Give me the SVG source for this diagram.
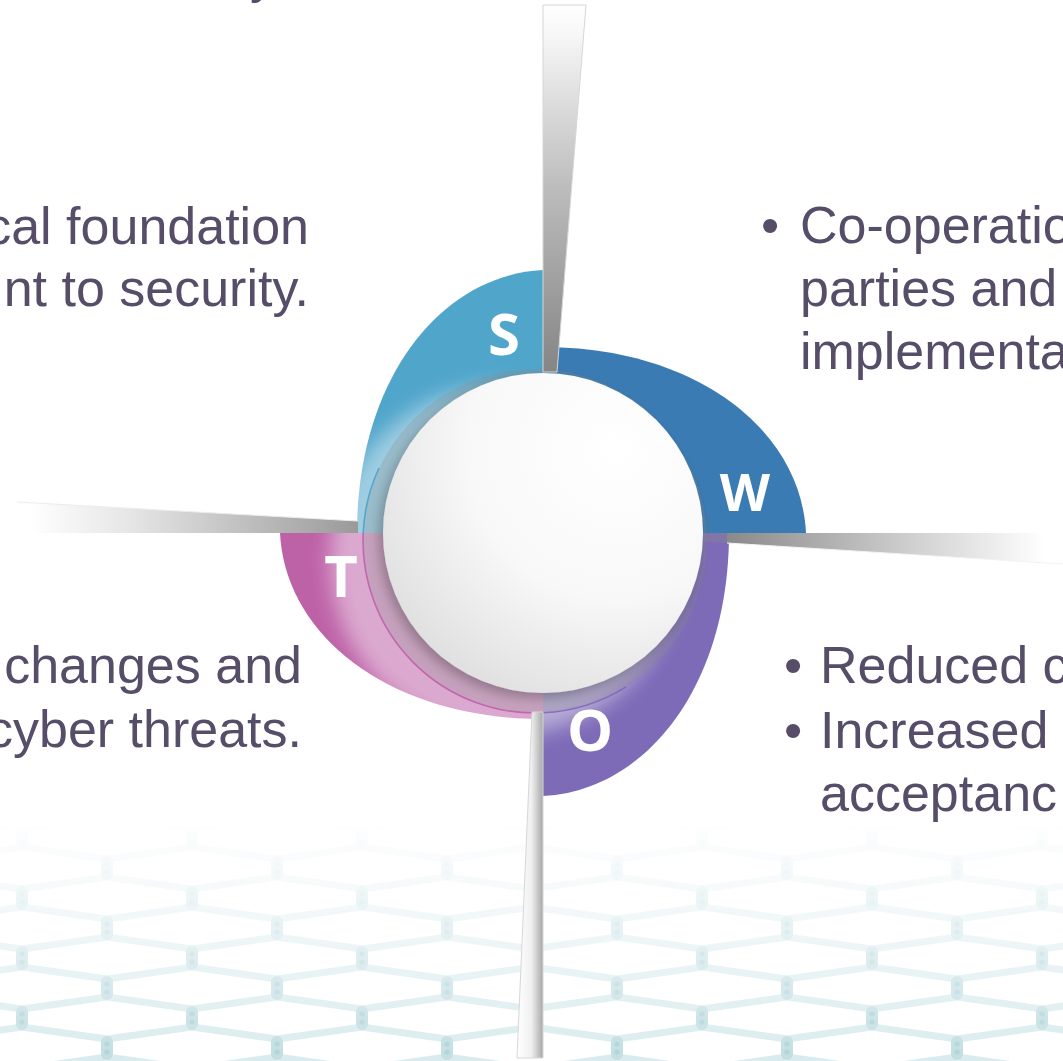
<svg xmlns="http://www.w3.org/2000/svg" width="1063" height="1061" viewBox="0 0 1063 1061">
<defs>
<style>
.txt{font-family:"Liberation Sans",Arial,sans-serif;font-size:52px;fill:#564D69}
.ltr{font-family:"Open Sans","DejaVu Sans",sans-serif;font-weight:700;fill:#ffffff;text-anchor:middle}
.hexline{fill:none;stroke:#d9ebee;stroke-width:7;stroke-linejoin:round}
.hexbond{fill:none;stroke:#c2dee2;stroke-width:12;stroke-linecap:round}
.needle{stroke:#d6d6d6;stroke-width:1}
.ring{fill:none;stroke-width:1.6;stroke-opacity:0.85}
</style>
<pattern id="hex" patternUnits="userSpaceOnUse" width="170" height="60" patternTransform="translate(-20,1003)">
<path class="hexline" d="M-43,36 L42,24 L127,36 L212,24 M-43,-6 L42,6 L127,-6 L212,6 M-43,54 L42,66 L127,54 L212,66"/>
<path class="hexbond" d="M42,9 V21 M127,39 V51"/>
<g fill="#afd3d8"><circle cx="42" cy="11" r="2.6"/><circle cx="42" cy="19" r="2.6"/><circle cx="127" cy="41" r="2.6"/><circle cx="127" cy="49" r="2.6"/></g>
</pattern>
<linearGradient id="fadeG" gradientUnits="userSpaceOnUse" x1="0" y1="820" x2="0" y2="1061">
<stop offset="0" stop-color="#fff" stop-opacity="0"/>
<stop offset="0.45" stop-color="#fff" stop-opacity="0.4"/>
<stop offset="1" stop-color="#fff" stop-opacity="1"/>
</linearGradient>
<mask id="fadeM" maskUnits="userSpaceOnUse" x="0" y="0" width="1063" height="1061">
<rect x="0" y="800" width="1063" height="261" fill="url(#fadeG)"/>
</mask>
<linearGradient id="gTop" gradientUnits="userSpaceOnUse" x1="0" y1="5" x2="0" y2="372">
<stop offset="0" stop-color="#ffffff"/>
<stop offset="0.08" stop-color="#f7f7f7"/>
<stop offset="0.5" stop-color="#bcbcbc"/>
<stop offset="1" stop-color="#858585"/>
</linearGradient>
<linearGradient id="gLeft" gradientUnits="userSpaceOnUse" x1="30" y1="0" x2="358" y2="0">
<stop offset="0" stop-color="#ffffff"/>
<stop offset="0.3" stop-color="#e6e6e6"/>
<stop offset="1" stop-color="#9a9a9a"/>
</linearGradient>
<linearGradient id="gRight" gradientUnits="userSpaceOnUse" x1="727" y1="0" x2="1045" y2="0">
<stop offset="0" stop-color="#8a8a8a"/>
<stop offset="0.6" stop-color="#d2d2d2"/>
<stop offset="1" stop-color="#ffffff"/>
</linearGradient>
<linearGradient id="gBottom" gradientUnits="userSpaceOnUse" x1="517" y1="0" x2="543" y2="0">
<stop offset="0" stop-color="#ffffff"/>
<stop offset="0.55" stop-color="#f0f0f0"/>
<stop offset="1" stop-color="#a8a8a8"/>
</linearGradient>
<radialGradient id="gCircle" gradientUnits="userSpaceOnUse" cx="615" cy="450" r="270">
<stop offset="0" stop-color="#ffffff"/>
<stop offset="0.55" stop-color="#f8f8f8"/>
<stop offset="1" stop-color="#e0e0e0"/>
</radialGradient>
<filter id="sh" x="-30%" y="-30%" width="160%" height="160%">
<feDropShadow dx="-4" dy="5" stdDeviation="6" flood-color="#000" flood-opacity="0.26"/>
</filter>
<filter id="blur" x="-30%" y="-30%" width="160%" height="160%">
<feGaussianBlur stdDeviation="10"/>
</filter>
</defs>
<rect width="1063" height="1061" fill="#ffffff"/>
<g id="background-pattern" mask="url(#fadeM)">
<rect x="0" y="800" width="1063" height="261" fill="url(#hex)"/>
</g>
<g id="text-strengths">
<text class="txt" x="250" y="-8">y</text>
<text class="txt" text-anchor="end" x="309" y="244">cal foundation</text>
<text class="txt" text-anchor="end" x="309" y="306">nt to security.</text>
</g>
<g id="text-weaknesses">
<text class="txt" x="761" y="243">•</text>
<text class="txt" x="800" y="243">Co-operatio</text>
<text class="txt" x="800" y="306">parties and</text>
<text class="txt" x="800" y="369">implementa</text>
</g>
<g id="text-opportunities">
<text class="txt" x="784" y="683">•</text>
<text class="txt" x="820" y="683">Reduced c</text>
<text class="txt" x="784" y="748">•</text>
<text class="txt" x="820" y="748">Increased</text>
<text class="txt" x="820" y="811">acceptanc</text>
</g>
<g id="text-threats">
<text class="txt" text-anchor="end" x="302" y="683">changes and</text>
<text class="txt" text-anchor="end" x="302" y="747">cyber threats.</text>
</g>
<g id="node-S"><path d="M543,270 C440,275 357,380 357,533 L543,533 Z" fill="#50A5CB"/></g>
<g id="node-W"><path d="M806,533 C801,430 696,347 543,347 L543,533 Z" fill="#3B7BB3"/></g>
<g id="node-O"><path d="M543,796 C646,791 729,686 729,533 L543,533 Z" fill="#7E6BB8"/></g>
<g id="node-T"><path d="M280,533 C285,636 390,719 543,719 L543,533 Z" fill="#BE62A8"/></g>
<g id="hub-shading">
<circle cx="505" cy="560" r="175" fill="#ffffff" opacity="0.45" filter="url(#blur)"/>
<circle cx="535" cy="541" r="172" fill="#8c8c8c" opacity="0.26"/>
<path class="ring" stroke="#4a9fc9" d="M379,468 A172,172 0 0 0 363.2,533"/>
<path class="ring" stroke="#c05aaa" d="M363.2,533 A172,172 0 0 0 543,712.8"/>
<path class="ring" stroke="#8064b8" d="M543,712.8 A172,172 0 0 0 626.2,686.9"/>
</g>
<g id="hub"><circle cx="543" cy="533" r="160" fill="url(#gCircle)" filter="url(#sh)"/></g>
<g id="connectors">
<polygon class="needle" points="543,5 586,5 557,372 543,372" fill="url(#gTop)"/>
<polygon points="17,502 358,521 358,533 17,533" fill="url(#gLeft)"/>
<line x1="17" y1="502" x2="358" y2="521" stroke="#ececec" stroke-width="1"/>
<polygon points="703,533 727,533 727,543 703,541" fill="#8a8a8a" opacity="0.35"/>
<polygon points="727,533 1063,533 1063,564 727,543" fill="url(#gRight)"/>
<line x1="727" y1="543" x2="1063" y2="564" stroke="#f2f2f2" stroke-width="1"/>
<polygon class="needle" points="532,712 543,712 543,1058 517,1058" fill="url(#gBottom)"/>
</g>
<g id="labels">
<text class="ltr" x="504" y="355" font-size="58">S</text>
<text class="ltr" x="745" y="511" font-size="52">W</text>
<text class="ltr" x="590" y="751" font-size="58">O</text>
<text class="ltr" x="341" y="597" font-size="58">T</text>
</g>
</svg>
